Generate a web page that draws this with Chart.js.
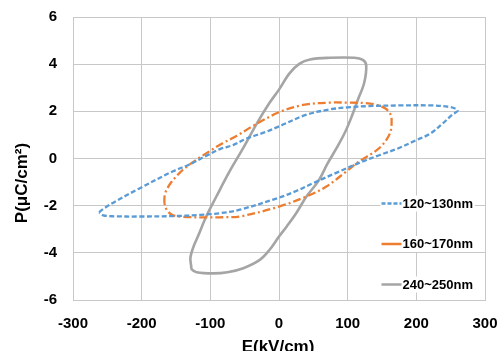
<!DOCTYPE html>
<html>
<head>
<meta charset="utf-8">
<script src="https://cdn.jsdelivr.net/npm/chart.js@4/dist/chart.umd.min.js"></script>
<style>
  html, body { margin: 0; padding: 0; background: #fff; }
  #wrap { width: 500px; height: 351px; position: relative; }
</style>
</head>
<body>
<div id="wrap"><canvas id="c" width="500" height="351"></canvas></div>
<script>
// ---- data ----
const seriesNames = ["120~130nm", "160~170nm", "240~250nm"];
const xTickValues = [-300, -200, -100, 0, 100, 200, 300];
const yTickValues = [-6, -4, -2, 0, 2, 4, 6];
const xTitle = "E(kV/cm)";
const yTitle = "P(\u03BCC/cm\u00B2)";

// 120~130nm loop (E in kV/cm, P in uC/cm2)
const blueE = [-262, -255, -240, -204, -155, -130, -107, -86, -67, -47, -20, 0, 40, 74, 100, 130, 176, 224, 250, 258, 260,
               252, 239, 220, 200, 171, 147, 118, 88, 50, 25, 0, -57, -86, -115, -150, -204, -240, -256, -262];
const blueP = [-2.28, -2.12, -1.85, -1.28, -0.55, -0.25, 0.10, 0.40, 0.57, 0.85, 1.12, 1.36, 1.86, 2.08, 2.17, 2.22, 2.25, 2.25, 2.18, 2.10, 2.02,
               1.85, 1.50, 1.05, 0.78, 0.40, 0.15, -0.17, -0.55, -1.04, -1.38, -1.66, -2.17, -2.32, -2.39, -2.44, -2.46, -2.45, -2.41, -2.28];

// 160~170nm loop
const orangeE = [-167, -166, -158, -145, -135, -115, -100, -82, -62, -38, 0, 35, 74, 100, 125, 142, 155, 162, 164,
                 162, 152, 140, 117, 98, 69, 40, 0, -57, -80, -101, -140, -155, -163, -167];
const orangeP = [-1.90, -1.50, -1.05, -0.62, -0.36, 0.05, 0.33, 0.65, 0.95, 1.38, 1.96, 2.27, 2.37, 2.37, 2.35, 2.28, 2.12, 1.90, 1.65,
                 1.10, 0.62, 0.30, -0.12, -0.55, -1.19, -1.61, -2.04, -2.46, -2.49, -2.50, -2.47, -2.40, -2.20, -1.90];

// 240~250nm loop
const grayE = [-128, -129, -124, -118, -106, -91, -72, -52, -33, -14, 0, 15, 30, 45, 74, 110, 122, 127,
               124, 115, 106, 96, 84, 71, 57, 40, 25, 11, 0, -14, -28, -52, -75, -96, -120, -127, -128];
const grayP = [-4.55, -4.20, -3.70, -3.30, -2.46, -1.60, -0.55, 0.45, 1.45, 2.35, 2.92, 3.60, 4.02, 4.20, 4.27, 4.27, 4.18, 3.95,
               3.20, 2.50, 1.79, 1.10, 0.45, -0.20, -0.97, -1.61, -2.32, -2.89, -3.31, -3.88, -4.30, -4.65, -4.82, -4.87, -4.82, -4.70, -4.55];

const seriesColors = ["#5B9BD5", "#ED7D31", "#A5A5A5"];
const seriesDash = [[5, 2.5], [8, 3, 2, 3], []];
const legendDash = [[4, 2], [], []];

function toPoints(xs, ys) { return xs.map((x, i) => ({ x: x, y: ys[i] })); }
const loops = [toPoints(blueE, blueP), toPoints(orangeE, orangeP), toPoints(grayE, grayP)];

const FONT = "'Liberation Sans', Arial, sans-serif";
const gridColor = "#c8c8c8";

function zeroPad(scale) {
  scale.paddingTop = 0; scale.paddingBottom = 0; scale.paddingLeft = 0; scale.paddingRight = 0;
}

const overlay = {
  id: 'overlay',
  afterDraw(chart) {
    const ctx = chart.ctx;
    const area = chart.chartArea;
    ctx.save();
    // axis titles
    ctx.fillStyle = "#000";
    ctx.font = "bold 17px " + FONT;
    ctx.textAlign = "center";
    ctx.textBaseline = "alphabetic";
    ctx.fillText(xTitle, (area.left + area.right) / 2 - 1, 352);
    ctx.save();
    ctx.translate(27, 183);
    ctx.rotate(-Math.PI / 2);
    ctx.fillText(yTitle, 0, 0);
    ctx.restore();
    // legend inside plot area
    const lx = 381.5, ly0 = 203.5, step = 40.5;
    ctx.font = "bold 13px " + FONT;
    ctx.textAlign = "left";
    ctx.textBaseline = "middle";
    seriesNames.forEach((name, i) => {
      const y = ly0 + i * step;
      const tw = ctx.measureText(name).width;
      ctx.fillStyle = "#fff";
      ctx.fillRect(lx - 1, y - 8, 22 + tw + 2, 16);
      ctx.strokeStyle = seriesColors[i];
      ctx.lineWidth = 2.5;
      ctx.setLineDash(legendDash[i]);
      ctx.beginPath();
      ctx.moveTo(lx, y);
      ctx.lineTo(lx + 20, y);
      ctx.stroke();
      ctx.setLineDash([]);
      ctx.fillStyle = "#000";
      ctx.fillText(name, lx + 21, y + 0.5);
    });
    ctx.restore();
  }
};

new Chart(document.getElementById('c'), {
  type: 'scatter',
  data: {
    datasets: loops.map((pts, i) => ({
      label: seriesNames[i],
      data: pts,
      showLine: true,
      borderColor: seriesColors[i],
      backgroundColor: seriesColors[i],
      borderWidth: i === 2 ? 2.6 : 2.3,
      borderDash: seriesDash[i],
      pointRadius: 0,
      pointHoverRadius: 0,
      tension: 0.35,
      fill: false
    }))
  },
  options: {
    responsive: false,
    animation: false,
    events: [],
    layout: { padding: { left: 0, right: 15, top: 17, bottom: 0 } },
    plugins: { legend: { display: false }, tooltip: { enabled: false }, title: { display: false } },
    scales: {
      x: {
        type: 'linear',
        min: -300, max: 300,
        afterBuildTicks(scale) { scale.ticks = xTickValues.map(v => ({ value: v })); },
        afterFit(scale) { scale.height = 51; zeroPad(scale); },
        grid: { color: gridColor, drawTicks: false, lineWidth: 1 },
        border: { color: gridColor, width: 1 },
        ticks: { padding: 15, color: "#000", font: { family: FONT, size: 15, weight: 'bold' }, maxRotation: 0,
                 callback: (v) => String(v) }
      },
      y: {
        type: 'linear',
        min: -6, max: 6,
        afterBuildTicks(scale) { scale.ticks = yTickValues.map(v => ({ value: v })); },
        afterFit(scale) { scale.width = 73; zeroPad(scale); },
        grid: { color: gridColor, drawTicks: false, lineWidth: 1 },
        border: { color: gridColor, width: 1 },
        ticks: { padding: 16, color: "#000", font: { family: FONT, size: 15, weight: 'bold' },
                 callback: (v) => String(v) }
      }
    }
  },
  plugins: [overlay]
});
</script>
</body>
</html>
